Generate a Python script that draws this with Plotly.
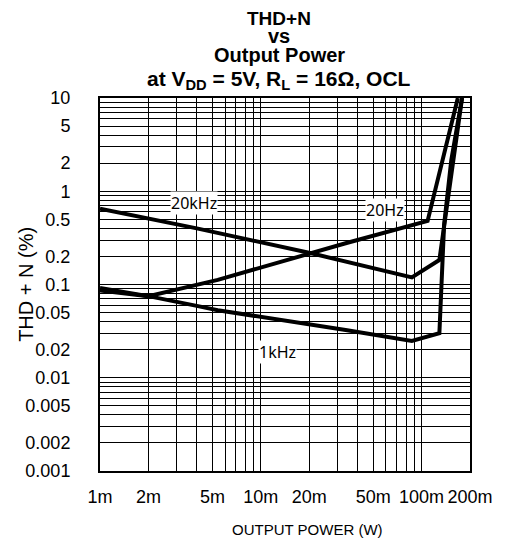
import numpy as np
import plotly.graph_objects as go

# output power (W) vs THD+N (%)
p_20hz = [0.001, 0.002, 0.0054, 0.0206, 0.0337, 0.109, 0.168]
thd_20hz = [0.092, 0.075, 0.112, 0.216, 0.277, 0.48, 10]

p_1khz = [0.001, 0.002, 0.004, 0.0054, 0.0337, 0.087, 0.129, 0.138, 0.153, 0.1785]
thd_1khz = [0.086, 0.075, 0.059, 0.053, 0.0325, 0.0248, 0.030, 0.435, 2.16, 10]

p_20khz = [0.001, 0.004, 0.0206, 0.087, 0.129, 0.1785]
thd_20khz = [0.65, 0.40, 0.216, 0.119, 0.183, 10]

curve_labels = ["20kHz", "20Hz", "1kHz"]
label_p = [0.00386, 0.0589, 0.0127]
label_thd = [0.748, 0.63, 0.019]

x_decades = [-3, -2, -1]
y_decades = [-3, -2, -1, 0, 1]
x_labels = {1: "1m", 2: "2m", 5: "5m", 10: "10m", 20: "20m", 50: "50m", 100: "100m", 200: "200m"}
y_labels = ["0.001", "0.002", "0.005", "0.01", "0.02", "0.05", "0.1", "0.2", "0.5", "1", "2", "5", "10"]

FONT = "Arial, Liberation Sans, sans-serif"

# grid at every 1..9 step of each decade, labels only on 1/2/5
xvals, xtext = [], []
for e in x_decades:
    for m in range(1, 10):
        v = m * 10.0 ** e
        if v > 0.2 + 1e-9:
            break
        xvals.append(v)
        xtext.append(x_labels.get(round(v * 1000), ""))
xvals.append(0.2)
xtext.append("200m")

yvals, ytext = [], []
for e in y_decades:
    for m in range(1, 10):
        v = m * 10.0 ** e
        if v > 10 + 1e-9:
            break
        yvals.append(v)
        lab = f"{v:.3f}".rstrip("0").rstrip(".") if v < 1 else f"{v:g}"
        ytext.append(lab if lab in y_labels else "")

fig = go.Figure()
for px, py in [(p_20khz, thd_20khz), (p_20hz, thd_20hz), (p_1khz, thd_1khz)]:
    fig.add_trace(go.Scatter(x=px, y=py, mode="lines",
                             line=dict(color="black", width=4),
                             showlegend=False, hoverinfo="skip"))

for txt, lx, ly in zip(curve_labels, label_p, label_thd):
    fig.add_annotation(x=np.log10(lx), y=np.log10(ly), text=txt, showarrow=False,
                       bgcolor="white", borderpad=0,
                       font=dict(family="Noto Sans", size=16, color="black"))

# title lines placed one by one for tight line spacing
title_lines = ["<b>THD+N</b>", "<b>vs</b>", "<b>Output Power</b>",
               "<b>at V<sub>DD</sub> = 5V, R<sub>L</sub> = 16Ω, OCL</b>"]
title_px = [18, 36, 55, 80]
title_size = [19, 20, 20, 21]
for t, py, sz in zip(title_lines, title_px, title_size):
    fig.add_annotation(x=0.485, y=(471 - py) / 373, xref="paper", yref="paper",
                       text=t, showarrow=False, xanchor="center", yanchor="middle",
                       font=dict(family=FONT, size=sz, color="black"))

# axis titles
fig.add_annotation(x=0.561, y=-0.158, xref="paper", yref="paper",
                   text="OUTPUT POWER (W)", showarrow=False,
                   xanchor="center", yanchor="middle",
                   font=dict(family=FONT, size=15, color="black"))
fig.add_annotation(x=-0.2, y=0.499, xref="paper", yref="paper",
                   text="THD + N (%)", showarrow=False, textangle=-90,
                   xanchor="center", yanchor="middle",
                   font=dict(family=FONT, size=20, color="black"))

fig.update_xaxes(type="log", range=[-3, np.log10(0.2)],
                 tickmode="array", tickvals=xvals, ticktext=xtext,
                 showgrid=True, gridcolor="black", gridwidth=1,
                 showline=True, linecolor="black", linewidth=2, mirror=True,
                 ticks="", ticklabelstandoff=8,
                 tickfont=dict(family=FONT, size=18, color="black"))
fig.update_yaxes(type="log", range=[-3, 1],
                 tickmode="array", tickvals=yvals, ticktext=ytext,
                 showgrid=True, gridcolor="black", gridwidth=1,
                 showline=True, linecolor="black", linewidth=2, mirror=True,
                 ticks="", ticklabelstandoff=24,
                 tickfont=dict(family=FONT, size=18, color="black"))

# page body adds an 8px offset, so the figure is sized to fit the window
fig.update_layout(width=497, height=538,
                  margin=dict(l=92, r=29, t=90, b=75),
                  plot_bgcolor="white", paper_bgcolor="white",
                  showlegend=False)

fig.write_html("out.html")
